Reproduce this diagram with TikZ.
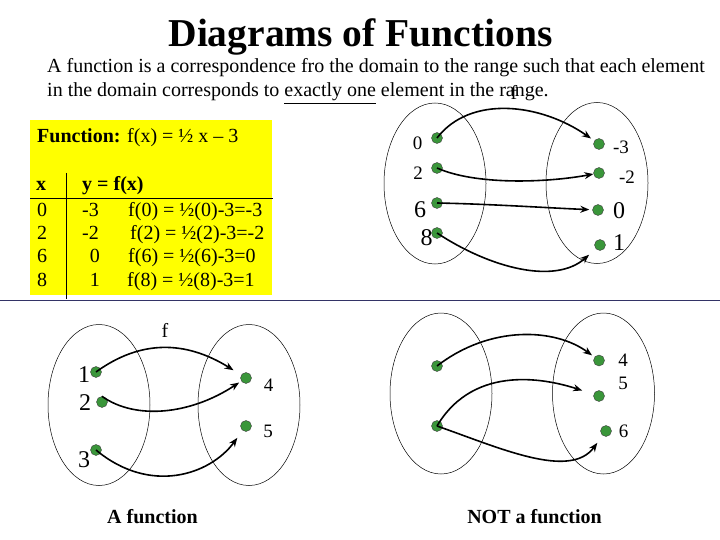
\documentclass[tikz,border=0pt]{standalone}
\usepackage{fontspec}
\setmainfont{Liberation Serif}
\usetikzlibrary{arrows.meta, shapes.geometric}
\definecolor{dotgreen}{RGB}{58,150,58}
\definecolor{rulenavy}{RGB}{51,51,102}
\definecolor{boxyellow}{RGB}{255,255,0}

\begin{document}
\begin{tikzpicture} [x=1pt, y=-1pt,
    elem/.style = {circle, draw=black!75, fill=dotgreen, line width=0.4pt, minimum size=11pt, inner sep=0pt},
    domset/.style = {ellipse, draw, line width=0.5pt, minimum width=102pt, minimum height=161pt, inner sep=0pt},
    lab/.style = {font=\fontsize{19}{19}\selectfont, inner sep=0pt},
    biglab/.style = {font=\fontsize{24}{24}\selectfont, inner sep=0pt},
    txt/.style = {font=\fontsize{20}{24}\selectfont, inner sep=0pt},
    maparrow/.style = {-{Stealth[length=9pt, width=7pt]}, line width=1.6pt}]

    \useasboundingbox [fill=white] (0,0) rectangle (720,540);

    \node (title) [font=\fontsize{39.5}{40}\selectfont\bfseries, inner sep=0pt, anchor=base] at (360.5,47) {Diagrams of Functions};
    \node (line1) [txt, anchor=base west] at (47,73) {A function is a correspondence fro the domain to the range such that each element};
    \node (line2) [txt, anchor=base west] at (47,97) {in the domain corresponds to \underline{exactly one} element in the range.};

    \fill [boxyellow] (30,120) rectangle (272,295);
    \draw [rulenavy, line width=0.9pt] (0,300) -- (720,300);
    \draw [line width=0.6pt] (30,198) -- (273,198);
    \draw [line width=0.6pt] (66,173) -- (66,299);
    \node (fx) [txt, anchor=base west] at (37,143) {\textbf{Function:} f(x) = ½ x – 3};
    \node (hx) [txt, anchor=base west] at (36,191) {\textbf{x}};
    \node (hy) [txt, anchor=base west] at (82,191) {\textbf{y = f(x)}};
    \node (x0) [txt, anchor=base west] at (37,216) {0};
    \node (x2) [txt, anchor=base west] at (37,239.3) {2};
    \node (x6) [txt, anchor=base west] at (37,262.7) {6};
    \node (x8) [txt, anchor=base west] at (37,286) {8};
    \node (y0) [txt, anchor=base east] at (99,216) {-3};
    \node (y2) [txt, anchor=base east] at (99,239.3) {-2};
    \node (y6) [txt, anchor=base east] at (100,262.7) {0};
    \node (y8) [txt, anchor=base east] at (100,286) {1};
    \node (e0) [txt, anchor=base west] at (128,216) {f(0) = ½(0)-3=-3};
    \node (e2) [txt, anchor=base west] at (130,239.3) {f(2) = ½(2)-3=-2};
    \node (e6) [txt, anchor=base west] at (128,262.7) {f(6) = ½(6)-3=0};
    \node (e8) [txt, anchor=base west] at (127,286) {f(8) = ½(8)-3=1};

    \node (sA) [domset] at (435,183.5) {};
    \node (sB) [domset] at (597,183) {};
    \node (fA) [txt, anchor=base] at (514,100) {f};
    \node (a0) [elem] at (437,138) {};
    \node (a2) [elem] at (437,168) {};
    \node (a6) [elem] at (437,203) {};
    \node (a8) [elem] at (437,233) {};
    \node (bm3) [elem] at (599,144) {};
    \node (bm2) [elem] at (599,173) {};
    \node (b0) [elem] at (598,210) {};
    \node (b1) [elem] at (600,245) {};
    \node (ta0) [lab] at (417.5,143) {0};
    \node (ta2) [lab] at (418,173) {2};
    \node (ta6) [biglab] at (420,209.5) {6};
    \node (ta8) [biglab] at (426.5,237.5) {8};
    \node (tbm3) [lab] at (621,147) {-3};
    \node (tbm2) [lab] at (627,177.5) {-2};
    \node (tb0) [biglab] at (619,210.5) {0};
    \node (tb1) [biglab] at (619,242.5) {1};

    \draw [maparrow, shorten >=4pt] (a0.center) .. controls (470,95) and (540,103) .. (bm3);
    \draw [maparrow, shorten >=0pt] (a2.center) .. controls (475,185) and (545,183) .. (bm2);
    \draw [maparrow, shorten >=3pt] (a6.center) .. controls (490,204) and (550,208) .. (b0);
    \draw [maparrow, shorten >=9pt] (a8.center) .. controls (490,268) and (555,285) .. (b1);

    \node (sC) [domset] at (99,405) {};
    \node (sD) [domset] at (249,405) {};
    \node (fC) [txt, anchor=base] at (165,337) {f};
    \node (c1) [elem] at (96,372) {};
    \node (c2) [elem] at (102,402) {};
    \node (c3) [elem] at (96,450) {};
    \node (d4) [elem] at (246,378) {};
    \node (d5) [elem] at (246,426) {};
    \node (tc1) [biglab] at (84,374.5) {1};
    \node (tc2) [biglab] at (85,403) {2};
    \node (tc3) [biglab] at (84,459.5) {3};
    \node (td4) [lab] at (268.5,385) {4};
    \node (td5) [lab] at (268,431.5) {5};

    \draw [maparrow, shorten >=9pt] (c1.center) .. controls (140,340) and (185,340) .. (d4);
    \draw [maparrow, shorten >=2.5pt] (c2.north) .. controls (135,420) and (190,415) .. (d4);
    \draw [maparrow, shorten >=9pt] (c3.center) .. controls (150,495) and (210,475) .. (d5);
    \node (capA) [txt, font=\fontsize{20}{24}\selectfont\bfseries, anchor=base] at (152.5,523) {A function};

    \node (sE) [domset] at (441,393.5) {};
    \node (sF) [domset] at (603.5,393.5) {};
    \node (g1) [elem] at (437,366) {};
    \node (g2) [elem] at (437,426) {};
    \node (h4) [elem] at (599,360.5) {};
    \node (h5) [elem] at (599,396) {};
    \node (h6) [elem] at (606,431) {};
    \node (th4) [lab] at (623,360) {4};
    \node (th5) [lab] at (623,383) {5};
    \node (th6) [lab] at (623.5,431) {6};

    \draw [maparrow, shorten >=3pt] (g1.center) .. controls (490,325) and (555,328) .. (h4);
    \draw [maparrow, shorten >=12pt] (g2.center) .. controls (475,362) and (550,380) .. (h5);
    \draw [maparrow, shorten >=9pt] (g2.center) .. controls (500,448) and (570,480) .. (h6);
    \node (capB) [txt, font=\fontsize{20}{24}\selectfont\bfseries, anchor=base] at (534.5,523) {NOT a function};

\end{tikzpicture}
\end{document}
